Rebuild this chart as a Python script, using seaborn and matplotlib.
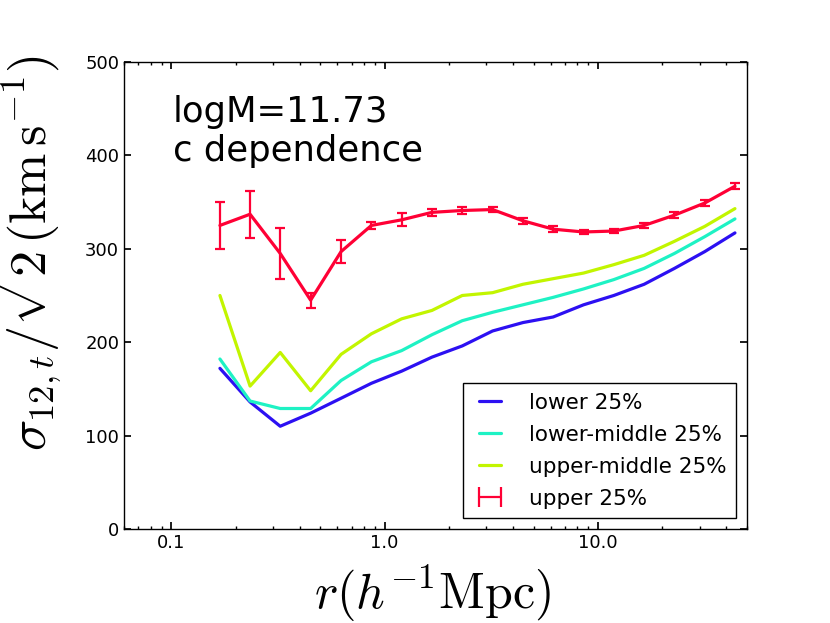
import numpy as np
import pandas as pd
import matplotlib
matplotlib.use("Agg")
import matplotlib.pyplot as plt
from matplotlib.lines import Line2D
import seaborn as sns

# separation bins (h^-1 Mpc)
r = [0.169, 0.234, 0.324, 0.450, 0.625, 0.867, 1.202, 1.667, 2.312, 3.207,
     4.45, 6.17, 8.56, 11.87, 16.47, 22.84, 31.7, 43.9]

lower = [172, 136, 110, 124, 140, 156, 169, 184, 196, 212,
         221, 227, 240, 250, 262, 279, 297, 317]
lower_middle = [182, 137, 129, 129, 159, 179, 191, 208, 223, 232,
                240, 248, 257, 267, 279, 295, 313, 332]
upper_middle = [250, 153, 189, 148, 187, 209, 225, 234, 250, 253,
                262, 268, 274, 283, 293, 308, 324, 343]
upper = [325, 337, 295, 245, 297, 325, 331, 339, 341, 342,
         330, 321, 318, 319, 325, 336, 349, 367]
upper_err = [25, 25, 27, 8, 12, 4, 7, 4, 4, 3,
             3, 3, 2, 2, 3, 3, 3, 3]

labels = ["lower 25%", "lower-middle 25%", "upper-middle 25%", "upper 25%"]
colors = ["#2c10f2", "#1ef2c4", "#c2f500", "#ff0035"]

sns.set_theme(style="ticks")
plt.rcParams.update({
    "font.family": ["DejaVu Sans"],
    "mathtext.fontset": "cm",
    "text.color": "black",
    "axes.labelcolor": "black",
    "xtick.direction": "in",
    "ytick.direction": "in",
    "xtick.top": True,
    "ytick.right": True,
    "xtick.major.size": 5,
    "ytick.major.size": 5,
    "xtick.minor.size": 2.5,
    "ytick.minor.size": 2.5,
    "xtick.color": "black",
    "ytick.color": "black",
    "axes.edgecolor": "black",
    "axes.linewidth": 1.0,
})

fig = plt.figure(figsize=(8.3, 6.23), dpi=100)
ax = fig.add_axes([0.1494, 0.1509, 0.7506, 0.7496])

for vals, lab, col in zip([lower, lower_middle, upper_middle], labels[:3], colors[:3]):
    sns.lineplot(x=r, y=vals, color=col, lw=2.3, label=lab, ax=ax)

ax.errorbar(r, upper, yerr=upper_err, color=colors[3], lw=2.3,
            elinewidth=1.6, capsize=3.5, capthick=1.6)

ax.set_xscale("log")
ax.set_xlim(0.06, 50)
ax.set_ylim(0, 500)
ax.set_yticks([0, 100, 200, 300, 400, 500])
ax.set_xticks([0.1, 1.0, 10.0])
ax.set_xticklabels(["0.1", "1.0", "10.0"])
ax.tick_params(labelsize=13, which="both", labelcolor="black")

ax.set_xlabel(r"$r(h^{-1}{\rm Mpc})$", fontsize=36)
ax.set_ylabel(r"$\sigma_{12,t}/\sqrt{2}({\rm km\,s^{-1}})$", fontsize=37.5)
ax.xaxis.set_label_coords(0.495, -0.075)
ax.yaxis.set_label_coords(-0.096, 0.59)

ax.text(0.078, 0.93, "logM=11.73\nc dependence", transform=ax.transAxes,
        ha="left", va="top", fontsize=25.5)

# legend: errorbar shown as a horizontal bar with end caps
handles, labs = ax.get_legend_handles_labels()
err_handle = Line2D([], [], color=colors[3], lw=1.6, marker="|",
                    markersize=15, markeredgewidth=1.6)
handles = handles[:3] + [err_handle]
leg = ax.legend(handles, labels, loc="lower right", fontsize=15.5, frameon=True,
                fancybox=False, edgecolor="black", framealpha=1,
                handlelength=1.6, handletextpad=1.0, borderaxespad=0.5,
                borderpad=0.45, labelspacing=0.55, numpoints=2)
leg.get_frame().set_linewidth(1.0)

fig.savefig("out.png", dpi=100, facecolor="white")
